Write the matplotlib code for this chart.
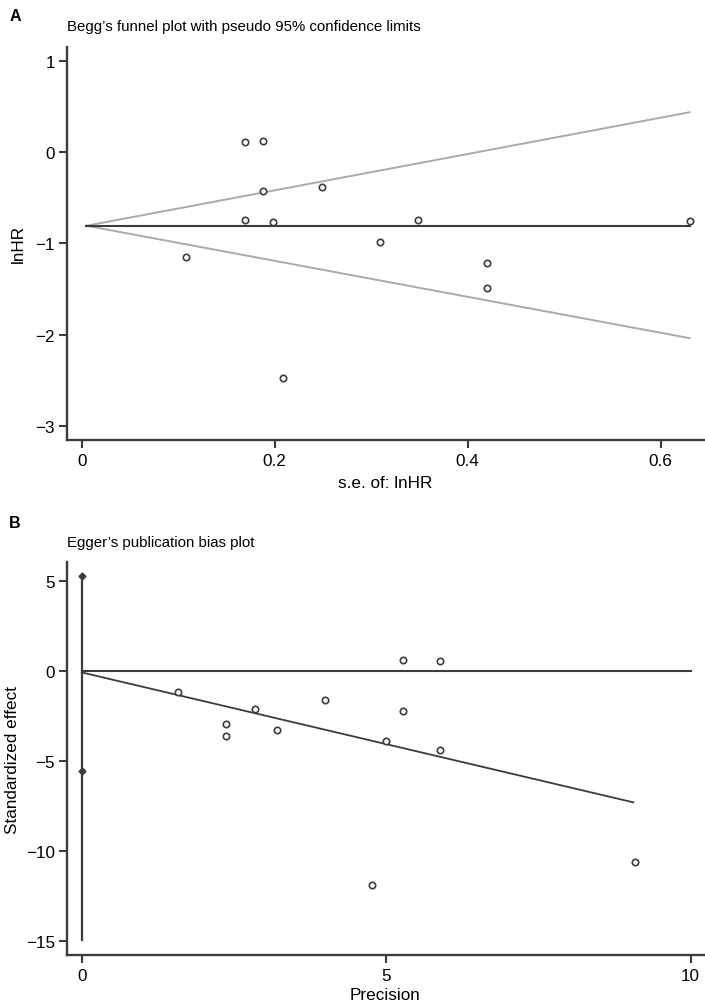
import matplotlib
matplotlib.use("Agg")
import matplotlib.pyplot as plt

# Panel A: Begg's funnel plot
se_A = [0.169, 0.188, 0.188, 0.249, 0.169, 0.198, 0.349, 0.309, 0.108, 0.42, 0.42, 0.209, 0.63]
lnhr_A = [0.11, 0.127, -0.42, -0.384, -0.743, -0.765, -0.743, -0.981, -1.153, -1.218, -1.493, -2.478, -0.757]
funnel_se = [0.005, 0.63]
pooled_line = [-0.806, -0.806]
upper_limit = [-0.806, 0.44]
lower_limit = [-0.806, -2.04]

# Panel B: Egger's publication bias plot
prec_B = [1.58, 2.37, 2.37, 2.85, 3.21, 4.0, 4.76, 4.99, 5.27, 5.27, 5.88, 5.88, 9.08]
eff_B = [-1.17, -2.9, -3.59, -2.12, -3.24, -1.58, -11.9, -3.86, 0.65, -2.2, 0.56, -4.37, -10.6]
zero_x = [0, 10]
zero_y = [0, 0]
reg_x = [0, 9.06]
reg_y = [-0.06, -7.28]
ci_x = [0, 0]
ci_y = [-14.93, 5.28]
ci_marks = [5.28, -5.53]

plt.rcParams['font.family'] = ['Liberation Sans', 'DejaVu Sans']

DARK = '#3c3c3c'
GREY = '#ababab'

fig = plt.figure(figsize=(7.05, 10.03), dpi=100)
axA = fig.add_axes([0.0946, 0.5606, 0.904, 0.3915])
axB = fig.add_axes([0.0946, 0.0469, 0.904, 0.3915])


def style_axes(ax):
    for side in ('top', 'right'):
        ax.spines[side].set_visible(False)
    for side in ('left', 'bottom'):
        ax.spines[side].set_linewidth(1.7)
        ax.spines[side].set_color(DARK)
    ax.tick_params(axis='both', direction='out', length=5.5, width=1.5,
                   color=DARK, labelsize=12.3, labelcolor='black')
    ax.tick_params(axis='y', pad=3)
    ax.tick_params(axis='x', pad=4)


# --- A ---
axA.plot(funnel_se, upper_limit, color=GREY, lw=1.4)
axA.plot(funnel_se, lower_limit, color=GREY, lw=1.4)
axA.plot(funnel_se, pooled_line, color=DARK, lw=1.5)
axA.plot(se_A, lnhr_A, linestyle='none', marker='o', markersize=4.6,
         markerfacecolor='white', markeredgecolor=DARK, markeredgewidth=1.2)
axA.set_xlim(-0.0155, 0.645)
axA.set_ylim(-3.155, 1.156)
axA.set_xticks([0, 0.2, 0.4, 0.6])
axA.set_xticklabels(['0', '0.2', '0.4', '0.6'])
axA.set_yticks([-3, -2, -1, 0, 1])
style_axes(axA)
axA.set_xlabel('s.e. of: lnHR', fontsize=12.3, labelpad=5)
axA.set_ylabel('lnHR', fontsize=12.3, labelpad=7)
axA.set_title('Begg\u2019s funnel plot with pseudo 95% confidence limits',
              loc='left', fontsize=10.8, pad=12)

# --- B ---
axB.plot(zero_x, zero_y, color=DARK, lw=1.5)
axB.plot(reg_x, reg_y, color=DARK, lw=1.3)
axB.plot(ci_x, ci_y, color=DARK, lw=1.6)
axB.plot([0, 0], ci_marks, linestyle='none', marker='D', markersize=3.5,
         color=DARK)
axB.plot(prec_B, eff_B, linestyle='none', marker='o', markersize=4.6,
         markerfacecolor='white', markeredgecolor=DARK, markeredgewidth=1.2)
axB.set_xlim(-0.247, 10.22)
axB.set_ylim(-15.76, 6.06)
axB.set_xticks([0, 5, 10])
axB.set_yticks([-15, -10, -5, 0, 5])
style_axes(axB)
axB.set_xlabel('Precision', fontsize=12.3, labelpad=3)
axB.set_ylabel('Standardized effect', fontsize=12.3, labelpad=4)
axB.set_title('Egger\u2019s publication bias plot', loc='left',
              fontsize=10.8, pad=12)

fig.text(0.013, 0.991, 'A', fontsize=11.5, fontweight='bold', va='top')
fig.text(0.013, 0.486, 'B', fontsize=11.5, fontweight='bold', va='top')

fig.savefig('out.png', dpi=100)
